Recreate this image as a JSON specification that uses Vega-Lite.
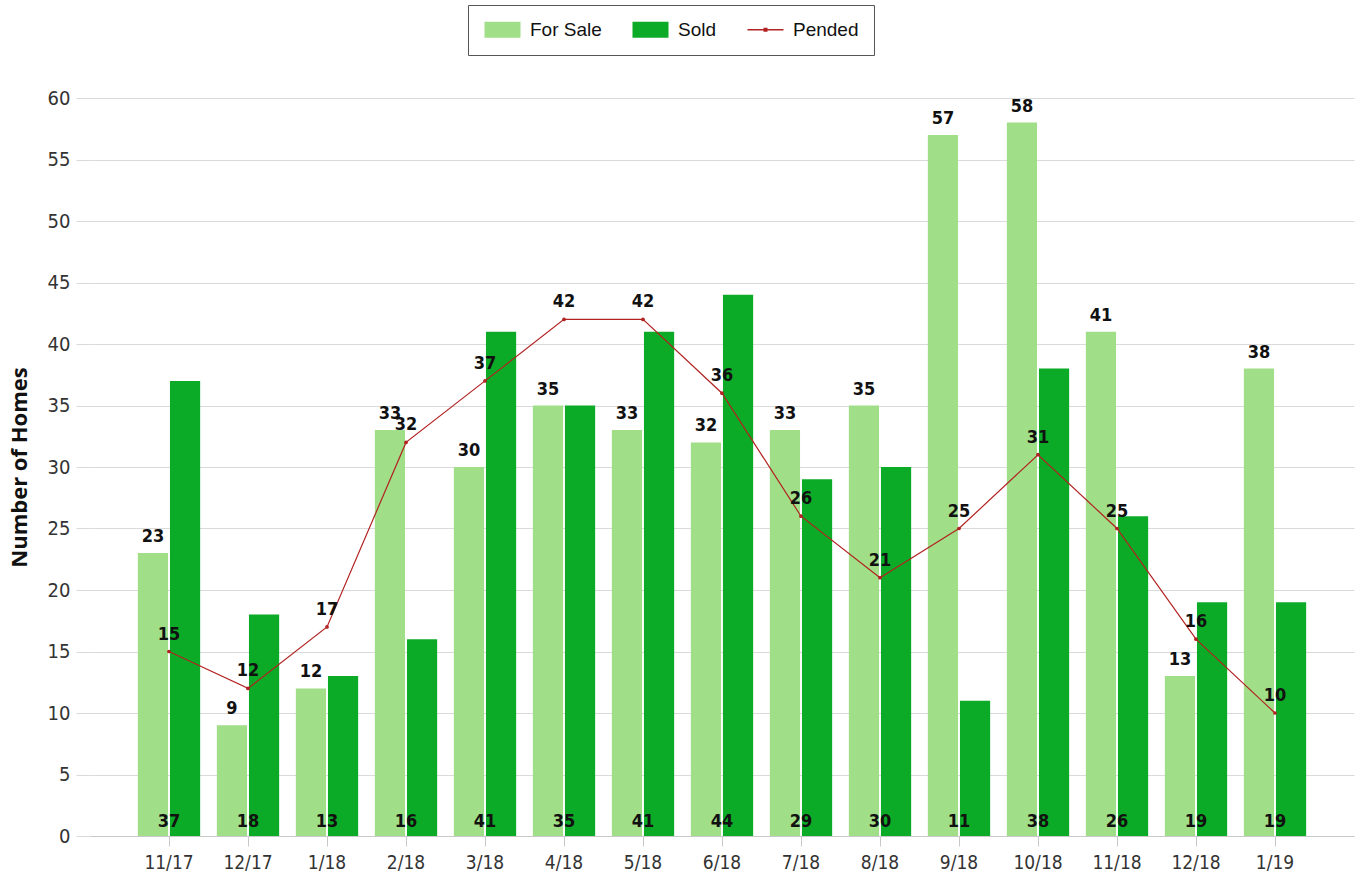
{
  "$schema": "https://vega.github.io/schema/vega-lite/v6.json",
  "width": 1264,
  "height": 738,
  "autosize": {"type": "none"},
  "padding": {"left": 90, "top": 98, "right": 6, "bottom": 42},
  "background": "white",
  "config": {
    "view": {"stroke": null},
    "font": "Liberation Sans Narrow, DejaVu Sans Condensed, sans-serif"
  },
  "data": {
    "values": [
      {"month": "11/17", "series": "For Sale", "value": 23}, {"month": "11/17", "series": "Sold", "value": 37}, {"month": "11/17", "series": "Pended", "value": 15},
      {"month": "12/17", "series": "For Sale", "value": 9}, {"month": "12/17", "series": "Sold", "value": 18}, {"month": "12/17", "series": "Pended", "value": 12},
      {"month": "1/18", "series": "For Sale", "value": 12}, {"month": "1/18", "series": "Sold", "value": 13}, {"month": "1/18", "series": "Pended", "value": 17},
      {"month": "2/18", "series": "For Sale", "value": 33}, {"month": "2/18", "series": "Sold", "value": 16}, {"month": "2/18", "series": "Pended", "value": 32},
      {"month": "3/18", "series": "For Sale", "value": 30}, {"month": "3/18", "series": "Sold", "value": 41}, {"month": "3/18", "series": "Pended", "value": 37},
      {"month": "4/18", "series": "For Sale", "value": 35}, {"month": "4/18", "series": "Sold", "value": 35}, {"month": "4/18", "series": "Pended", "value": 42},
      {"month": "5/18", "series": "For Sale", "value": 33}, {"month": "5/18", "series": "Sold", "value": 41}, {"month": "5/18", "series": "Pended", "value": 42},
      {"month": "6/18", "series": "For Sale", "value": 32}, {"month": "6/18", "series": "Sold", "value": 44}, {"month": "6/18", "series": "Pended", "value": 36},
      {"month": "7/18", "series": "For Sale", "value": 33}, {"month": "7/18", "series": "Sold", "value": 29}, {"month": "7/18", "series": "Pended", "value": 26},
      {"month": "8/18", "series": "For Sale", "value": 35}, {"month": "8/18", "series": "Sold", "value": 30}, {"month": "8/18", "series": "Pended", "value": 21},
      {"month": "9/18", "series": "For Sale", "value": 57}, {"month": "9/18", "series": "Sold", "value": 11}, {"month": "9/18", "series": "Pended", "value": 25},
      {"month": "10/18", "series": "For Sale", "value": 58}, {"month": "10/18", "series": "Sold", "value": 38}, {"month": "10/18", "series": "Pended", "value": 31},
      {"month": "11/18", "series": "For Sale", "value": 41}, {"month": "11/18", "series": "Sold", "value": 26}, {"month": "11/18", "series": "Pended", "value": 25},
      {"month": "12/18", "series": "For Sale", "value": 13}, {"month": "12/18", "series": "Sold", "value": 19}, {"month": "12/18", "series": "Pended", "value": 16},
      {"month": "1/19", "series": "For Sale", "value": 38}, {"month": "1/19", "series": "Sold", "value": 19}, {"month": "1/19", "series": "Pended", "value": 10}
    ]
  },
  "encoding": {
    "x": {
      "field": "month", "type": "nominal", "sort": null,
      "scale": {"paddingInner": 0, "paddingOuter": 0.5},
      "axis": {
        "title": null, "labelAngle": 0, "bandPosition": 0.5,
        "domainColor": "#c8c8c8", "tickColor": "#c8c8c8", "tickSize": 10,
        "labelFontSize": 19, "labelColor": "#333", "labelPadding": 7
      }
    }
  },
  "layer": [
    {
      "transform": [{"filter": "datum.series !== 'Pended'"}],
      "mark": {"type": "bar"},
      "encoding": {
        "xOffset": {"field": "series", "type": "nominal", "scale": {"domain": ["For Sale", "Sold"], "paddingInner": 0.06, "paddingOuter": 0.26}},
        "y": {
          "field": "value", "type": "quantitative",
          "scale": {"domain": [0, 60], "nice": false},
          "axis": {
            "title": "Number of Homes", "titleFont": "Open Sans", "titleFontSize": 22, "titleFontWeight": "bold", "titleColor": "#111", "titlePadding": 16,
            "values": [0, 5, 10, 15, 20, 25, 30, 35, 40, 45, 50, 55, 60],
            "domain": false, "grid": true, "gridColor": "#dadada", "tickColor": "#dadada", "tickSize": 14,
            "labelFontSize": 20, "labelColor": "#333", "labelPadding": 6
          }
        },
        "color": {
          "field": "series", "type": "nominal",
          "scale": {"domain": ["For Sale", "Sold", "Pended"], "range": ["#a0de88", "#0cab27", "#b22222"]},
          "legend": {
            "orient": "none", "legendX": 378, "legendY": -93, "direction": "horizontal", "title": null,
            "strokeColor": "#555", "fillColor": "white", "padding": 15,
            "labelFont": "Liberation Sans, Arial, sans-serif", "labelFontSize": 19, "labelColor": "#111",
            "symbolSize": 256, "columnPadding": 29, "labelOffset": 28, "symbolStrokeWidth": 0,
            "encode": {
              "symbols": {
                "update": {
                  "shape": {"signal": "datum.value === 'Pended' ? 'M-1,-0.1H3.5V0.1H-1Z M1,-0.25H1.5V0.25H1Z' : 'M-1,-1H3.5V1H-1Z'"},
                  "fill": {"scale": "color", "field": "value"},
                  "stroke": {"value": "transparent"},
                  "opacity": {"value": 1},
                  "fillOpacity": {"value": 1}
                }
              }
            }
          }
        }
      }
    },
    {
      "transform": [{"filter": "datum.series === 'Pended'"}],
      "mark": {"type": "line", "strokeWidth": 1.2, "point": {"filled": true, "size": 14}},
      "encoding": {
        "y": {"field": "value", "type": "quantitative"},
        "color": {"field": "series", "type": "nominal"}
      }
    },
    {
      "transform": [{"filter": "datum.series === 'For Sale'"}],
      "mark": {"type": "text", "baseline": "bottom", "dy": -7, "fontSize": 18, "fontWeight": "bold", "color": "#111"},
      "encoding": {
        "xOffset": {"field": "series", "type": "nominal"},
        "y": {"field": "value", "type": "quantitative"},
        "text": {"field": "value", "type": "quantitative"}
      }
    },
    {
      "transform": [{"filter": "datum.series === 'Sold'"}],
      "mark": {"type": "text", "baseline": "bottom", "dy": -5, "fontSize": 18, "fontWeight": "bold", "color": "#111"},
      "encoding": {
        "y": {"datum": 0, "type": "quantitative"},
        "text": {"field": "value", "type": "quantitative"}
      }
    },
    {
      "transform": [{"filter": "datum.series === 'Pended'"}],
      "mark": {"type": "text", "baseline": "bottom", "dy": -8, "fontSize": 18, "fontWeight": "bold", "color": "#111"},
      "encoding": {
        "y": {"field": "value", "type": "quantitative"},
        "text": {"field": "value", "type": "quantitative"}
      }
    }
  ]
}
